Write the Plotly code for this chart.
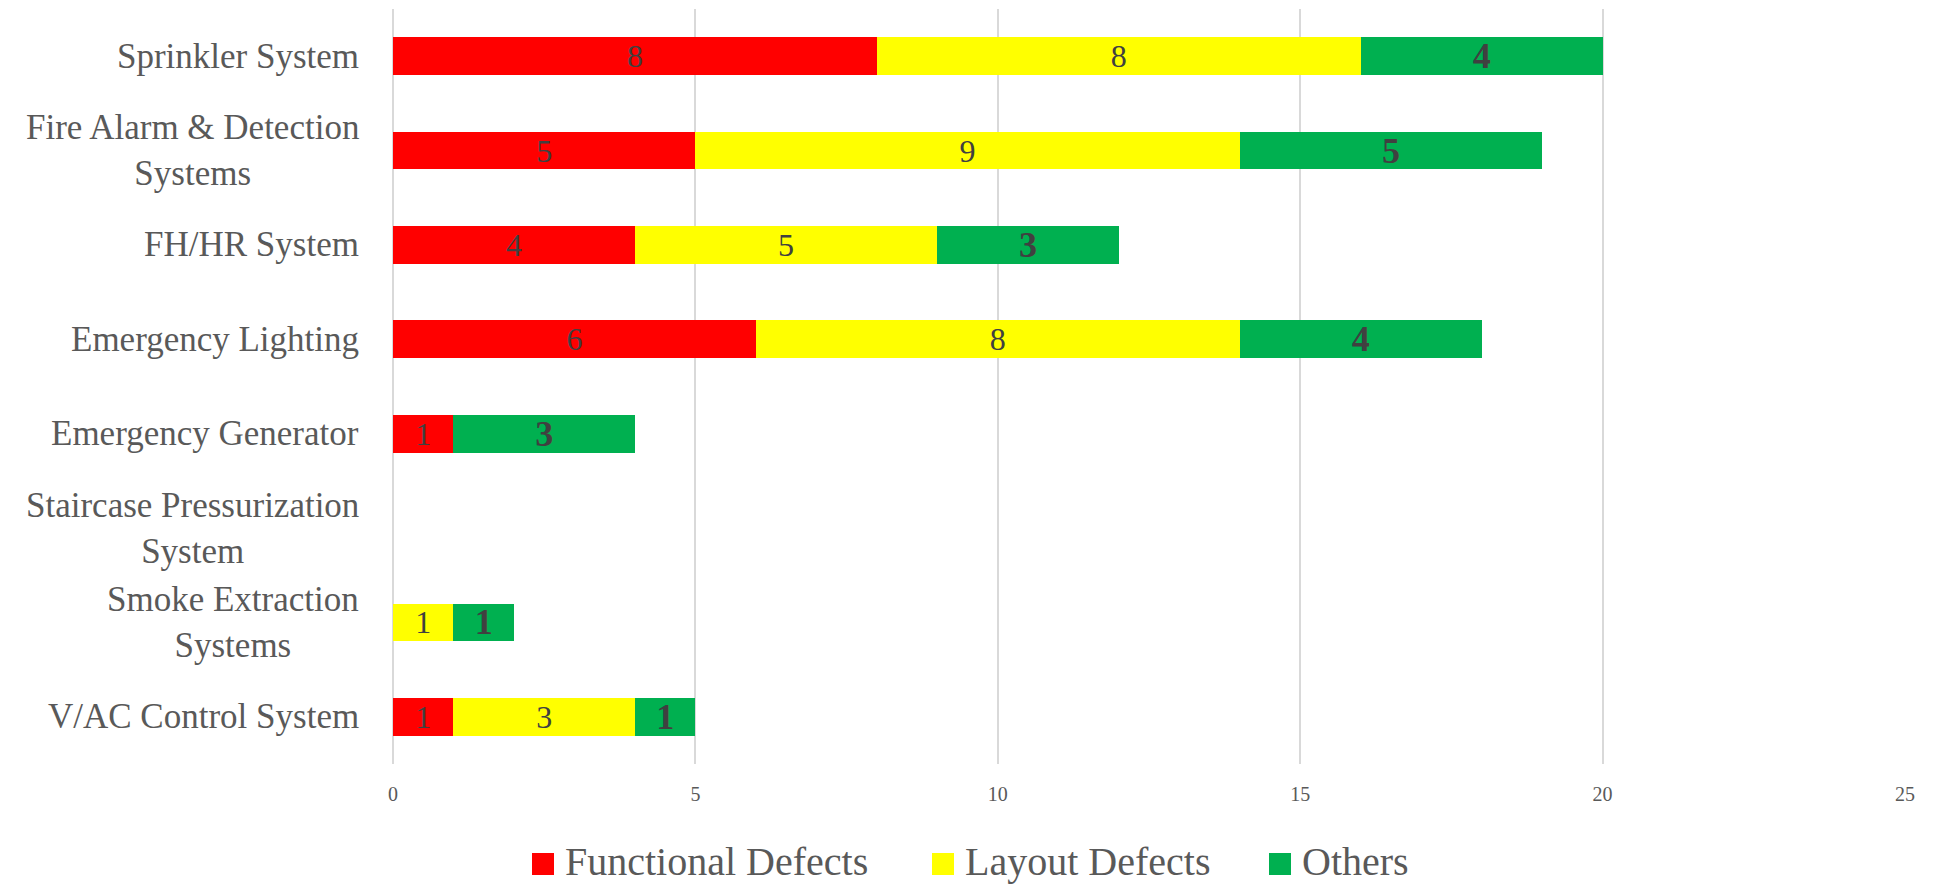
import plotly.graph_objects as go

# Inspection findings per fire-safety system
categories = [
    "Sprinkler System",
    "Fire Alarm & Detection<br>Systems",
    "FH/HR System",
    "Emergency Lighting",
    "Emergency Generator",
    "Staircase Pressurization<br>System",
    "Smoke Extraction<br>Systems",
    "V/AC Control System",
]
functional_defects = [8, 5, 4, 6, 1, 0, 0, 1]
layout_defects = [8, 9, 5, 8, 0, 0, 1, 3]
others = [4, 5, 3, 4, 3, 0, 1, 1]

series_names = ["Functional Defects", "Layout Defects", "Others"]
x_ticks = [0, 5, 10, 15, 20, 25]

FONT = "Liberation Serif"
TEXT_GREY = "#595959"
LABEL_DARK = "#404040"
COLORS = ["#FF0000", "#FFFF00", "#00B050"]

W, H = 1934, 889
M_L, M_R, M_T, M_B = 393, 29, 9, 125
plot_w = W - M_L - M_R
plot_h = H - M_T - M_B


def labels(values):
    return [str(v) if v else "" for v in values]


fig = go.Figure()
series = [functional_defects, layout_defects, others]
for name, vals, color in zip(series_names, series, COLORS):
    bold = name == "Others"
    fig.add_trace(
        go.Bar(
            name=name,
            y=categories,
            x=vals,
            orientation="h",
            marker=dict(color=color, line=dict(width=0)),
            text=labels(vals),
            textposition="inside",
            insidetextanchor="middle",
            textangle=0,
            constraintext="none",
            textfont=dict(
                family=FONT,
                size=36 if bold else 32,
                color=LABEL_DARK,
                weight="bold" if bold else "normal",
            ),
            showlegend=False,
            hoverinfo="skip",
        )
    )

fig.update_layout(
    barmode="stack",
    bargap=0.6,
    width=W,
    height=H,
    autosize=False,
    margin=dict(l=M_L, r=M_R, t=M_T, b=M_B),
    paper_bgcolor="white",
    plot_bgcolor="white",
    font=dict(family=FONT, color=TEXT_GREY),
)

fig.update_xaxes(
    range=[0, 25],
    tickvals=x_ticks,
    ticktext=[str(t) for t in x_ticks],
    showgrid=True,
    gridcolor="#D9D9D9",
    gridwidth=1.5,
    zeroline=True,
    zerolinecolor="#D9D9D9",
    zerolinewidth=1.5,
    showline=False,
    ticks="",
    ticklabelstandoff=16,
    tickfont=dict(family=FONT, size=20, color=TEXT_GREY),
    fixedrange=True,
)

# Category names are drawn as centre-aligned annotations so that
# wrapped names stay centred line by line.
fig.update_yaxes(
    autorange="reversed",
    showgrid=False,
    zeroline=False,
    showline=False,
    ticks="",
    showticklabels=False,
    fixedrange=True,
)
for cat in categories:
    fig.add_annotation(
        xref="paper",
        yref="y",
        x=0,
        y=cat,
        xanchor="right",
        yanchor="middle",
        xshift=-32,
        align="center",
        text=cat,
        showarrow=False,
        font=dict(family=FONT, size=35, color=TEXT_GREY),
    )


# Legend drawn as colour swatches plus text, placed in pixel terms
def px_x(px):
    return (px - M_L) / plot_w


def px_y(py):
    return (H - M_B - py) / plot_h


legend_items = [
    (series_names[0], COLORS[0], 532),
    (series_names[1], COLORS[1], 932),
    (series_names[2], COLORS[2], 1269),
]
sw = 22
sw_top = 853
for name, color, x0 in legend_items:
    fig.add_shape(
        type="rect",
        xref="paper",
        yref="paper",
        x0=px_x(x0),
        x1=px_x(x0 + sw),
        y0=px_y(sw_top + sw),
        y1=px_y(sw_top),
        fillcolor=color,
        line=dict(width=0),
    )
    fig.add_annotation(
        xref="paper",
        yref="paper",
        x=px_x(x0 + sw + 9),
        y=px_y(861),
        xanchor="left",
        yanchor="middle",
        text=name,
        showarrow=False,
        font=dict(family=FONT, size=40, color=TEXT_GREY),
    )

fig.write_html("out.html")
